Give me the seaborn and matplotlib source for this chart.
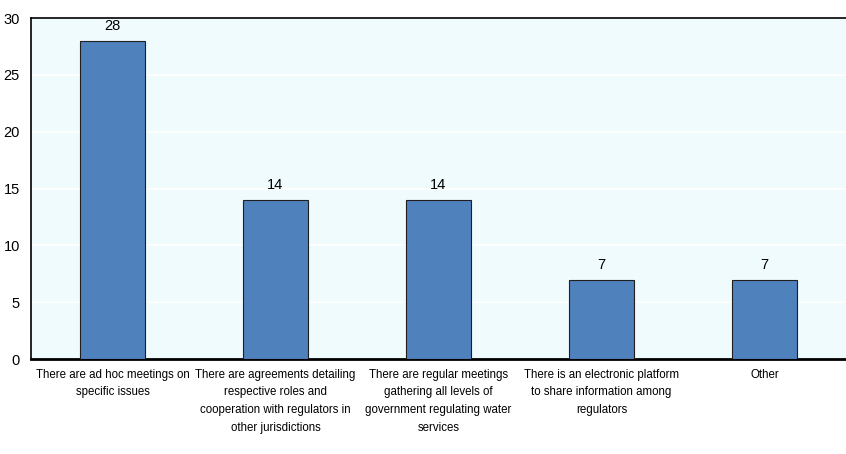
import matplotlib
matplotlib.use("Agg")
import matplotlib.pyplot as plt
import seaborn as sns
import pandas as pd

categories = [
    "There are ad hoc meetings on\nspecific issues",
    "There are agreements detailing\nrespective roles and\ncooperation with regulators in\nother jurisdictions",
    "There are regular meetings\ngathering all levels of\ngovernment regulating water\nservices",
    "There is an electronic platform\nto share information among\nregulators",
    "Other",
]
values = [28, 14, 14, 7, 7]
yticks = [0, 5, 10, 15, 20, 25, 30]

sns.set_theme(style="white")
plt.rcParams["font.family"] = ["Liberation Sans", "DejaVu Sans"]
plt.rcParams["text.color"] = "black"
plt.rcParams["xtick.color"] = "black"
plt.rcParams["ytick.color"] = "black"

df = pd.DataFrame({"category": categories, "value": values})

fig = plt.figure(figsize=(8.46, 4.54), dpi=100)
ax = fig.add_axes([0.0366, 0.209, 0.9634, 0.751])
ax.set_facecolor("#F0FBFE")

sns.barplot(data=df, x="category", y="value", color="#4F81BD", width=0.4,
            edgecolor="#1F1F1F", linewidth=0.8, saturation=1, ax=ax, zorder=3)

ax.set_ylim(0, 30)
ax.set_xlim(-0.5, len(categories) - 0.5)
ax.set_yticks(yticks)
ax.set_yticklabels([str(t) for t in yticks], fontsize=10.5)
ax.yaxis.grid(True, color="white", linewidth=1.2, zorder=0)
ax.set_axisbelow(True)

# category separators drawn as minor ticks
ax.set_xticks(range(len(categories)))
ax.set_xticklabels(categories, fontsize=8.3, linespacing=1.62)
ax.set_xticks([i + 0.5 for i in range(len(categories) - 1)], minor=True)
ax.tick_params(axis="x", which="major", length=0, pad=7)
ax.tick_params(axis="x", which="minor", direction="in", length=5, width=1, color="black")
ax.tick_params(axis="y", direction="in", length=5, width=1, color="black", pad=8)
ax.set_xlabel("")
ax.set_ylabel("")

for side in ["left", "top", "bottom"]:
    ax.spines[side].set_color("black")
ax.spines["left"].set_linewidth(1.2)
ax.spines["top"].set_linewidth(1.2)
ax.spines["bottom"].set_linewidth(2)
ax.spines["right"].set_visible(False)

for i, v in enumerate(values):
    ax.text(i, v + 0.7, str(v), ha="center", va="bottom", fontsize=10.5)

fig.savefig("out.png", dpi=100)
